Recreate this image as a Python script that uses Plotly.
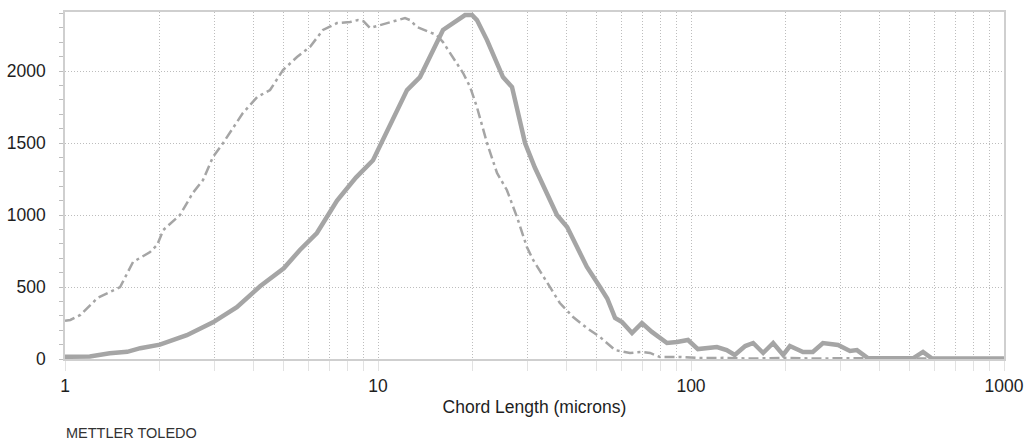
import plotly.graph_objects as go

# Chord length distribution: two measurements, counts vs chord length (log scale)
solid_x = [1.0, 1.2, 1.39, 1.58, 1.74, 2.01, 2.45, 2.97, 3.54, 4.2, 5.0, 5.63, 6.38,
           7.4, 8.5, 9.64, 12.38, 13.62, 16.13, 18.97, 19.97, 20.71, 22.3, 25.07,
           26.8, 29.5, 31.7, 37.3, 40.2, 46.5, 51.2, 54.0, 57.2, 60.2, 64.8, 69.7,
           75.0, 83.8, 90.2, 97.8, 105.2, 121, 130, 138, 149, 158, 170, 183, 197,
           207, 228, 245, 264, 295, 322, 339, 368, 512, 551, 589, 1000]
solid_y = [15, 18, 40, 50, 75, 100, 165, 255, 360, 505, 630, 757, 875,
           1100, 1260, 1380, 1868, 1958, 2285, 2389, 2389, 2354, 2215, 1958,
           1889, 1500, 1330, 1000, 917, 639, 500, 420, 285, 257, 180, 250,
           188, 111, 118, 132, 69, 83, 62, 28, 90, 111, 42, 111, 28,
           90, 49, 49, 111, 97, 56, 62, 5, 5, 49, 3, 3]

dash_x = [1.0, 1.04, 1.12, 1.27, 1.39, 1.5, 1.65, 1.87, 1.97, 2.06, 2.33, 2.56,
          2.76, 2.97, 3.2, 3.7, 4.11, 4.52, 4.97, 5.51, 6.06, 6.67, 7.39, 8.14,
          8.63, 9.0, 9.42, 12.2, 12.65, 13.32, 15.4, 16.13, 18.7, 19.7, 20.7,
          22.3, 24.0, 25.8, 27.8, 29.9, 31.3, 34.7, 38.1, 42.0, 46.5, 51.2, 57.2,
          63.8, 69.7, 74.0, 79.6, 92.2, 106.8, 130, 154, 200, 250, 300, 400,
          600, 1000]
dash_y = [265, 271, 306, 424, 465, 500, 674, 743, 792, 896, 1000, 1153,
          1243, 1403, 1500, 1708, 1819, 1868, 2007, 2097, 2167, 2285, 2333, 2340,
          2354, 2345, 2299, 2368, 2354, 2306, 2250, 2201, 1986, 1889, 1750,
          1500, 1292, 1174, 986, 778, 688, 528, 389, 292, 215, 153, 62,
          42, 49, 42, 14, 14, 7, 8, 3, 8, 3, 5, 2,
          3, 2]

x_major = [1, 10, 100, 1000]
x_grid = [m * d for d in (1, 10, 100) for m in range(1, 10)] + [1000]
x_text = [str(v) if v in x_major else "" for v in x_grid]
y_ticks = [0, 500, 1000, 1500, 2000]

LINE = "#a5a5a5"
GRID = "#bdbdbd"
BORDER = "#cfcfcf"
DOTS = "1px,2px"

fig = go.Figure()
fig.add_trace(go.Scatter(
    x=dash_x, y=dash_y, mode="lines",
    line=dict(color=LINE, width=2.5, dash="10px,4px,3px,4px"),
    showlegend=False,
))
fig.add_trace(go.Scatter(
    x=solid_x, y=solid_y, mode="lines",
    line=dict(color=LINE, width=4.5),
    showlegend=False,
))

fig.update_layout(
    width=1027, height=443,
    margin=dict(l=65, r=23, t=12, b=84),
    paper_bgcolor="white", plot_bgcolor="white",
    font=dict(family="Liberation Sans, Arial, sans-serif", size=17.5, color="#1e1e1e"),
    xaxis=dict(
        type="log", range=[0, 3], automargin=False,
        tickmode="array", tickvals=x_grid, ticktext=x_text,
        showgrid=True, gridcolor=GRID, griddash=DOTS, gridwidth=1,
        ticks="outside", ticklen=10, tickcolor="#e2e2e2", tickwidth=1,
        ticklabelstandoff=0,
        showline=True, linecolor=BORDER, linewidth=2, mirror=True,
        zeroline=False,
        title=dict(text="Chord Length (microns)", font=dict(size=17.5), standoff=6),
    ),
    yaxis=dict(
        range=[0, 2410], automargin=False,
        tickmode="array", tickvals=y_ticks,
        showgrid=True, gridcolor=GRID, griddash=DOTS, gridwidth=1,
        ticks="outside", ticklen=4, tickcolor="#bdbdbd",
        minor=dict(dtick=100, ticks="outside", ticklen=4, tickcolor="#bdbdbd", showgrid=False),
        ticklabelstandoff=10,
        showline=True, linecolor=BORDER, linewidth=1.5, mirror=True,
        zeroline=False,
    ),
    annotations=[dict(
        text="METTLER TOLEDO", xref="paper", yref="paper",
        x=0, y=0, yshift=-74, xshift=-1, xanchor="left", yanchor="middle",
        showarrow=False, font=dict(size=14.5, color="#333333"),
    )],
)

fig.write_html("out.html")
